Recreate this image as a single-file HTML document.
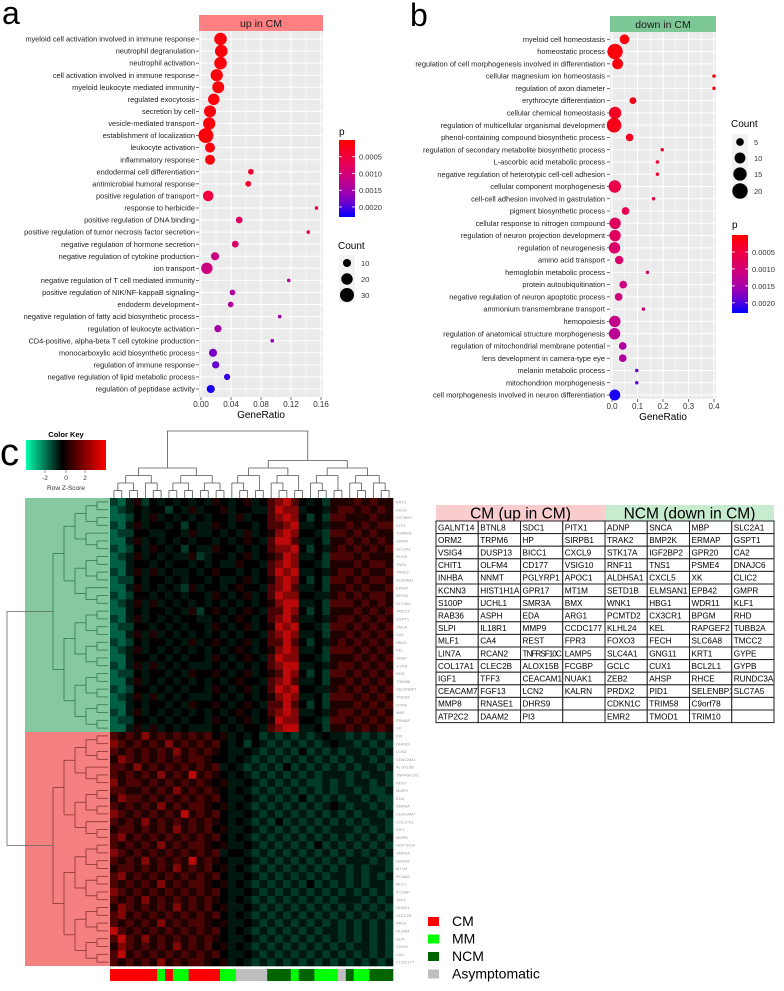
<!DOCTYPE html>
<html><head><meta charset="utf-8"><style>
body{margin:0;background:#fff;}
svg text{font-family:"Liberation Sans",sans-serif;}
</style></head><body>
<svg id="fig" width="784" height="986" viewBox="0 0 784 986" xmlns="http://www.w3.org/2000/svg">
<rect width="784" height="986" fill="#fff"/>
<text x="2" y="24" font-size="32">a</text>
<text x="410" y="26" font-size="32">b</text>
<text x="0" y="465" font-size="38">c</text>
<text x="466" y="540" font-size="38">d</text>
<g id="pa"></g>
<g id="pb"></g>
<g id="pc"></g>
<g id="pd"></g>
</svg>
<script>
const NS="http://www.w3.org/2000/svg";
// ---------- Panel a data ----------
const termsA=["myeloid cell activation involved in immune response","neutrophil degranulation","neutrophil activation","cell activation involved in immune response","myeloid leukocyte mediated immunity","regulated exocytosis","secretion by cell","vesicle-mediated transport","establishment of localization","leukocyte activation","inflammatory response","endodermal cell differentiation","antimicrobial humoral response","positive regulation of transport","response to herbicide","positive regulation of DNA binding","positive regulation of tumor necrosis factor secretion","negative regulation of hormone secretion","negative regulation of cytokine production","ion transport","negative regulation of T cell mediated immunity","positive regulation of NIK/NF-kappaB signaling","endoderm development","negative regulation of fatty acid biosynthetic process","regulation of leukocyte activation","CD4-positive, alpha-beta T cell cytokine production","monocarboxylic acid biosynthetic process","regulation of immune response","negative regulation of lipid metabolic process","regulation of peptidase activity"];
const ratioA=[0.026,0.027,0.026,0.021,0.023,0.017,0.012,0.011,0.0065,0.012,0.012,0.0665,0.063,0.0096,0.154,0.051,0.143,0.0457,0.0187,0.0078,0.117,0.042,0.0396,0.105,0.0226,0.095,0.016,0.0196,0.0348,0.013];
const countA=[24,24,24,23,22,20,22,23,34,15,15,5,5,17,2,7,2,7,10,20,2,5,5,2,8,2,10,8,6,10];
const pA=[0.0001,0.0001,0.0001,0.0001,0.0001,0.0001,0.0001,0.0001,0.0001,0.0001,0.0001,0.0004,0.0004,0.0005,0.0006,0.0008,0.0007,0.0009,0.0011,0.0011,0.0013,0.0014,0.0014,0.0015,0.0015,0.0017,0.0018,0.0019,0.0021,0.0022];
const ticksA=[0,0.04,0.08,0.12,0.16];
const tickLabA=["0.00","0.04","0.08","0.12","0.16"];
// ---------- Panel b data ----------
const termsB=["myeloid cell homeostasis","homeostatic process","regulation of cell morphogenesis involved in differentiation","cellular magnesium ion homeostasis","regulation of axon diameter","erythrocyte differentiation","cellular chemical homeostasis","regulation of multicellular organismal development","phenol-containing compound biosynthetic process","regulation of secondary metabolite biosynthetic process","L-ascorbic acid metabolic process","negative regulation of heterotypic cell-cell adhesion","cellular component morphogenesis","cell-cell adhesion involved in gastrulation","pigment biosynthetic process","cellular response to nitrogen compound","regulation of neuron projection development","regulation of neurogenesis","amino acid transport","hemoglobin metabolic process","protein autoubiquitination","negative regulation of neuron apoptotic process","ammonium transmembrane transport","hemopoiesis","regulation of anatomical structure morphogenesis","regulation of mitochondrial membrane potential","lens development in camera-type eye","melanin metabolic process","mitochondrion morphogenesis","cell morphogenesis involved in neuron differentiation"];
const ratioB=[0.049,0.012,0.022,0.4,0.4,0.082,0.012,0.008,0.069,0.197,0.178,0.178,0.011,0.163,0.053,0.012,0.012,0.01,0.028,0.139,0.044,0.026,0.123,0.011,0.01,0.042,0.042,0.097,0.097,0.011];
const countB=[8,20,10,1,1,4,13,18,5,1,1,1,13,1,5,11,11,11,6,1,5,5,1,11,11,5,5,1,1,10];
const pB=[0.0001,0.0001,0.0001,0.0001,0.0001,0.0002,0.0003,0.0002,0.0003,0.0003,0.0004,0.0004,0.0006,0.0006,0.0007,0.0008,0.0008,0.0009,0.0009,0.0009,0.0011,0.0011,0.0011,0.0012,0.0013,0.0014,0.0014,0.0019,0.0019,0.0022];
const ticksB=[0,0.1,0.2,0.3,0.4];
const tickLabB=["0.0","0.1","0.2","0.3","0.4"];
// ---------- Panel c data (heatmap z-levels 0..8, 4=0) ----------
const heatRows=["213524343434354345346786434255565655","123434424353445344336877344356656565","112435343434344353446787424266555655","213534434243354344346678334355656566","122443344353343435345787443266565655","113534343434434345436886334255656565","212435434243354434346778424356565656","123534343352344345345687334266656555","113443434434343354436787443255565665","213535343343454434346878334356656556","122434434344343345345787424266565665","113534343253443454436786334255656556","212443434344354345346877443356565665","123535343434343434345788334266656565","113434434352454345436687424255565656","213534343443343454346786334356656565","122443434344354345345878443266565656","113535343434343434436787334255656565","212434434353454345346686424356565656","123534343434343454345787334266656565","113443434344354345436877443255565656","213535343433343434346788334356656565","122434434354454345345687424266565656","113534343434343454436786334255656565","212443434344354345346878443356565656","123535343433343434345787334266656565","113434434354454345436686424255565656","213534343434343454346787334356656565","122443434344354345345877443266565656","113535343433343434436788334255656565",
"656575656565645343423232323433232323","765656575656564342432323232343323232","656565657565654334323232423232332323","576565656566544343232323232323233232","665756565656563432323242323232323323","656565756585654343232323232333232332","756656565656545334323232322323233232","665565657565654343232323232323323223","576656565656564334323232423232332322","656565756566545343232323232343233232","765656565856564334323232323232323323","656575656565654343232423232323232332","566565657565645334323232323233323232","675656565656564343232323232323232323","656565756566545334323232324232323232","765656565656563443232323232323232323","656575656585654334323232323232333232","566565657565645343232323232323232332","675656565656564334323232323233232323","656565756566545343232323242323232332","765656565656564334323232323232323232","656575656565654343232323232323332323","576565657565645334323232323232323232","675656565656564343232323232323232323","656565756566545334323232323232323232","865656565656564343232323232332323232","686575656565654334323232323232323232","576565657565645343232323232323233232","685656565656564334323232323232323232","656565756566545343232323232323232323"];
const groupSeq=["CM","CM","CM","CM","CM","CM","MM","CM","MM","MM","CM","CM","CM","CM","MM","MM","A","A","A","A","NCM","NCM","NCM","MM","NCM","NCM","MM","MM","MM","A","NCM","MM","MM","NCM","NCM","NCM"];
const groupNames=["CM","MM","NCM","Asymptomatic"];
const rowGenes=["KRT1","FECH","IGF2BP2","KLF1","TUBB2A","GMPR","SLC2A1","RHCE","TNS1","TRAK2","ALDH5A1","EPB42","BPGM","SLC4A1","TMCC2","GSPT1","SNCA","CA2","HBG1","KEL","AHSP","GYPB","RHD","TRIM58","SELENBP1","TMOD1","GYPE","MBP","ERMAP","XK",
"PI3","DHRS9","LCN2","CEACAM1","ALOX15B","TNFRSF10C","REST","MMP9","EDA","SMR3A","CEACAM7","COL17A1","IGF1","MMP8","HIST1H1A","SMR3A","DAAM2","MT1M","RCAN2","MLF1","FCGBP","TFF3","NUAK1","CLEC2B","ARG1","OLFM4","SLPI","VSIG4","CA4","CCDC177"];
// ---------- Panel d data ----------
const tableRows=[["GALNT14","BTNL8","SDC1","PITX1","ADNP","SNCA","MBP","SLC2A1"],["ORM2","TRPM6","HP","SIRPB1","TRAK2","BMP2K","ERMAP","GSPT1"],["VSIG4","DUSP13","BICC1","CXCL9","STK17A","IGF2BP2","GPR20","CA2"],["CHIT1","OLFM4","CD177","VSIG10","RNF11","TNS1","PSME4","DNAJC6"],["INHBA","NNMT","PGLYRP1","APOC1","ALDH5A1","CXCL5","XK","CLIC2"],["KCNN3","HIST1H1A","GPR17","MT1M","SETD1B","ELMSAN1","EPB42","GMPR"],["S100P","UCHL1","SMR3A","BMX","WNK1","HBG1","WDR11","KLF1"],["RAB36","ASPH","EDA","ARG1","PCMTD2","CX3CR1","BPGM","RHD"],["SLPI","IL18R1","MMP9","CCDC177","KLHL24","KEL","RAPGEF2","TUBB2A"],["MLF1","CA4","REST","FPR3","FOXO3","FECH","SLC6A8","TMCC2"],["LIN7A","RCAN2","TNFRSF10C","LAMP5","SLC4A1","GNG11","KRT1","GYPE"],["COL17A1","CLEC2B","ALOX15B","FCGBP","GCLC","CUX1","BCL2L1","GYPB"],["IGF1","TFF3","CEACAM1","NUAK1","ZEB2","AHSP","RHCE","RUNDC3A"],["CEACAM7","FGF13","LCN2","KALRN","PRDX2","PID1","SELENBP1","SLC7A5"],["MMP8","RNASE1","DHRS9","","CDKN1C","TRIM58","C9orf78",""],["ATP2C2","DAAM2","PI3","","EMR2","TMOD1","TRIM10",""]];

function mk(parent,tag,attrs,txt){const e=document.createElementNS(NS,tag);for(const k in attrs)e.setAttribute(k,attrs[k]);if(txt!==undefined)e.textContent=txt;parent.appendChild(e);return e;}
function lerp(a,b,t){return a+(b-a)*t;}
const stops=[[255,0,0],[238,0,71],[200,0,131],[141,0,190],[0,0,255]];
function pcol(p){let t=Math.max(0,Math.min(1,p/0.0023))*4;let i=Math.min(3,Math.floor(t));let f=t-i;const a=stops[i],b=stops[i+1];return `rgb(${Math.round(lerp(a[0],b[0],f))},${Math.round(lerp(a[1],b[1],f))},${Math.round(lerp(a[2],b[2],f))})`;}

function dotplot(g,cfg){
  const {terms,ratio,count,pv,ticks,tickLab,x0,x1,y0,y1,r0,rN,vmax,kr,strip,stripCol,labelX,minorTicks}=cfg;
  const X=v=>x0+2+(v/vmax)*(x1-x0-4);
  const Y=i=>lerp(r0,rN,i/(terms.length-1));
  const bg=mk(g,'rect',{x:x0,y:y0,width:x1-x0,height:y1-y0,fill:'#EBEBEB'});
  
  
  minorTicks.forEach(v=>{mk(g,'line',{x1:X(v),x2:X(v),y1:y0,y2:y1,stroke:'#fff','stroke-width':0.5});});
  ticks.forEach((v,i)=>{
    mk(g,'line',{x1:X(v),x2:X(v),y1:y0,y2:y1,stroke:'#fff','stroke-width':1});
    mk(g,'line',{x1:X(v),x2:X(v),y1:y1,y2:y1+3,stroke:'#333','stroke-width':0.7});
    const t=mk(g,'text',{x:X(v),y:y1+10,'font-size':8,'text-anchor':'middle',fill:'#333'},tickLab[i]);
    
    
  });
  const xt=mk(g,'text',{x:(x0+x1)/2,y:y1+21,'font-size':10,'text-anchor':'middle',fill:'#000'},'GeneRatio');
  
  
  terms.forEach((tm,i)=>{
    const y=Y(i);
    mk(g,'line',{x1:x0,x2:x1,y1:y,y2:y,stroke:'#fff','stroke-width':1});
    mk(g,'line',{x1:x0-3,x2:x0,y1:y,y2:y,stroke:'#333','stroke-width':0.7});
    const t=mk(g,'text',{x:labelX,y:y+2.6,'font-size':7.4,'text-anchor':'end',fill:'#222'},tm);
    
    
  });
  terms.forEach((tm,i)=>{
    const c=mk(g,'circle',{cx:X(ratio[i]),cy:Y(i),r:kr*Math.sqrt(count[i]),fill:pcol(pv[i])});
    
    
  });
  const s=mk(g,'rect',{x:x0,y:y0-16,width:x1-x0,height:16,fill:stripCol});
  
  
  const st=mk(g,'text',{x:(x0+x1)/2,y:y0-4,'font-size':10.5,'text-anchor':'middle',fill:'#1a1a1a'},strip);
  
  
}
function pLegend(g,x,yT,yTop,yBot){
  const t=mk(g,'text',{x:x,y:yT,'font-size':10,fill:'#000'},'p');
  
  
  const id='grad'+x;
  const defs=mk(g,'defs',{});const lg=mk(defs,'linearGradient',{id:id,x1:0,y1:0,x2:0,y2:1});
  for(let i=0;i<=10;i++){mk(lg,'stop',{offset:i/10,'stop-color':pcol(0.0023*i/10)});}
  const bar=mk(g,'rect',{x:x,y:yTop,width:16,height:yBot-yTop,fill:`url(#${id})`});
  
  
  const labs=[0.0005,0.001,0.0015,0.002],lt=["0.0005","0.0010","0.0015","0.0020"];
  labs.forEach((v,i)=>{const y=yTop+(v/0.0023)*(yBot-yTop);
    mk(g,'line',{x1:x,x2:x+3,y1:y,y2:y,stroke:'#fff','stroke-width':0.8});mk(g,'line',{x1:x+13,x2:x+16,y1:y,y2:y,stroke:'#fff','stroke-width':0.8});
    const l=mk(g,'text',{x:x+20,y:y+3,'font-size':7.5,fill:'#333'},lt[i]);
    
    });
}
function cLegend(g,x,yT,vals,ys,kr){
  const t=mk(g,'text',{x:x,y:yT,'font-size':10,fill:'#000'},'Count');
  
  
  vals.forEach((v,i)=>{
    mk(g,'rect',{x:x+1,y:ys[i]-8,width:16,height:16,fill:'#F2F2F2'});
    const c=mk(g,'circle',{cx:x+9,cy:ys[i],r:kr*Math.sqrt(v),fill:'#000'});
    
    
    const l=mk(g,'text',{x:x+23,y:ys[i]+3,'font-size':7.5,fill:'#333'},String(v));
    
    
  });
}
const pa=document.getElementById('pa');
dotplot(pa,{terms:termsA,ratio:ratioA,count:countA,pv:pA,ticks:ticksA,tickLab:tickLabA,minorTicks:[0.02,0.06,0.1,0.14],x0:199,x1:323,y0:31,y1:397,r0:39,rN:389,vmax:0.16,kr:1.28,strip:'up in CM',stripCol:'#FF8080',labelX:195});
pLegend(pa,339,135,140,217);
cLegend(pa,338,249,[10,20,30],[263,279,295],1.28);
const pb=document.getElementById('pb');
dotplot(pb,{terms:termsB,ratio:ratioB,count:countB,pv:pB,ticks:ticksB,tickLab:tickLabB,minorTicks:[0.05,0.15,0.25,0.35],x0:610,x1:716,y0:32,y1:399,r0:39.3,rN:395,vmax:0.4,kr:1.72,strip:'down in CM',stripCol:'#7DC794',labelX:605});
cLegend(pb,731,127,[5,10,15,20],[142,158,174,191],1.72);
pLegend(pb,732,228,235,313);

// ---------- Panel c ----------
const pc=document.getElementById('pc');
const HX0=110,HX1=393,HY0=498,HY1=966;
const nC=heatRows[0].length,nR=heatRows.length;
const cw=(HX1-HX0)/nC,rh=(HY1-HY0)/nR;
function zcol(d){const z=(d-4)/4;if(z>=0){const i=Math.pow(z,1.3)*0.8;return `rgb(${Math.round(235*i)},${Math.round(10*i)},${Math.round(10*i)})`;}const i=Math.pow(-z,1.3)*0.7;return `rgb(0,${Math.round(200*i)},${Math.round(140*i)})`;}
// color key
const kd=mk(pc,'defs',{});const kg=mk(kd,'linearGradient',{id:'ckey',x1:0,y1:0,x2:1,y2:0});
[['0','#00FFB0'],['0.45','#000'],['1','#FF0000']].forEach(s=>mk(kg,'stop',{offset:s[0],'stop-color':s[1]}));
const ck=mk(pc,'rect',{x:26,y:440,width:80,height:30,fill:'url(#ckey)'});


mk(pc,'text',{x:66,y:437,'font-size':7.5,'font-weight':'bold','text-anchor':'middle'},'Color Key');
[['-2',45],['0',66],['2',85]].forEach(a=>{mk(pc,'line',{x1:a[1],x2:a[1],y1:470,y2:473,stroke:'#555','stroke-width':0.6});mk(pc,'text',{x:a[1],y:480,'font-size':6.5,'text-anchor':'middle',fill:'#333'},a[0]);});
mk(pc,'text',{x:66,y:490,'font-size':6.5,'text-anchor':'middle',fill:'#333'},'Row Z-Score');
const split=30;
mk(pc,'rect',{x:25,y:HY0,width:HX0-25,height:split*rh,fill:'#86C9A0'});
mk(pc,'rect',{x:25,y:HY0+split*rh,width:HX0-25,height:(nR-split)*rh,fill:'#F48080'});
for(let r=0;r<nR;r++){for(let c=0;c<nC;c++){
  const d=+heatRows[r][c];
  const cell=mk(pc,'rect',{x:HX0+c*cw,y:HY0+r*rh,width:cw+0.3,height:rh+0.3,fill:zcol(d)});
  
  
}}
for(let r=0;r<nR;r++){mk(pc,'text',{x:HX1+3,y:HY0+r*rh+rh*0.7,'font-size':4,fill:'#999'},rowGenes[r]);}
function build(lo,hi){if(lo===hi)return {lo:lo,hi:hi,leaf:true,h:0,pos:lo};const m=lo+Math.max(0,Math.floor((hi-lo+1)*0.45)-1)+ ((hi-lo)>2?1:0);const mm=Math.min(hi-1,Math.max(lo,m));const a=build(lo,mm),b=build(mm+1,hi);return {a:a,b:b,h:Math.max(a.h,b.h)+1,pos:(a.pos+b.pos)/2};}
function drawTree(node,g,toP,toH,color){if(node.leaf)return;[node.a,node.b].forEach(ch=>{drawTree(ch,g,toP,toH,color);const p1=toP(ch.pos),h1=toH(ch.h),h0=toH(node.h);mk(g,'path',{d:toPathSeg(p1,h1,h0),stroke:color,'stroke-width':0.8,fill:'none'});});const pa=toP(node.a.pos),pb2=toP(node.b.pos),h0=toH(node.h);mk(g,'path',{d:toCross(pa,pb2,h0),stroke:color,'stroke-width':0.8,fill:'none'});}
let toPathSeg=(p,h1,h0)=>`M${p},${h1}V${h0}`;let toCross=(a,b,h)=>`M${a},${h}H${b}`;
const colL=build(0,14),colR=build(15,nC-1);
const colG=mk(pc,'g',{});
const cP=i=>HX0+(i+0.5)*cw,cH=h=>HY0-h*7.5;
drawTree(colL,colG,cP,cH,'#555');drawTree(colR,colG,cP,cH,'#555');
mk(colG,'path',{d:`M${cP(colL.pos)},${cH(colL.h)}V431H${cP(colR.pos)}V${cH(colR.h)}`,stroke:'#555','stroke-width':0.8,fill:'none'});
toPathSeg=(p,h1,h0)=>`M${h1},${p}H${h0}`;toCross=(a,b,h)=>`M${h},${a}V${b}`;
const rowT=build(0,split-1),rowB=build(split,nR-1);
const rowG=mk(pc,'g',{});
const rP=i=>HY0+(i+0.5)*rh,rH=h=>HX0-2-h*11;
drawTree(rowT,rowG,rP,rH,'#2E7A4A');drawTree(rowB,rowG,rP,rH,'#8A3030');
mk(rowG,'path',{d:`M${rH(rowT.h)},${rP(rowT.pos)}H7V${rP(rowB.pos)}H${rH(rowB.h)}`,stroke:'#666','stroke-width':0.8,fill:'none'});
const gcol={CM:'#FF0000',MM:'#00FF00',NCM:'#006400',A:'#BEBEBE',Asymptomatic:'#BEBEBE'};
groupSeq.forEach((gname,c)=>{const r=mk(pc,'rect',{x:HX0+c*cw,y:969,width:cw+0.3,height:12,fill:gcol[gname]});
  
  });
groupNames.forEach((n,i)=>{const y=917+i*17.5;
  const s=mk(pc,'rect',{x:428,y:y,width:11,height:9,fill:gcol[n]});
  
  
  const t=mk(pc,'text',{x:452,y:y+9,'font-size':14,fill:'#000'},n);
  
  });

// ---------- Panel d table ----------
const pd=document.getElementById('pd');
const TX0=436,TX1=774,TY0=505,TH=16,TR0=521,TRh=12.6;
const tcw=(TX1-TX0)/8;
mk(pd,'rect',{x:TX0,y:TY0,width:tcw*4,height:TH,fill:'#F9CDCD'});
mk(pd,'rect',{x:TX0+tcw*4,y:TY0,width:tcw*4,height:TH,fill:'#C6EBCF'});
const h1=mk(pd,'text',{x:TX0+tcw*2,y:TY0+13.5,'font-size':15.5,'text-anchor':'middle'},'CM (up in CM)');


const h2=mk(pd,'text',{x:TX0+tcw*6,y:TY0+13.5,'font-size':15.5,'text-anchor':'middle'},'NCM (down in CM)');


tableRows.forEach((row,r)=>row.forEach((v,c)=>{
  const x=TX0+c*tcw,y=TR0+r*TRh;
  mk(pd,'rect',{x:x,y:y,width:tcw,height:TRh,fill:'#fff',stroke:'#222','stroke-width':1});
  if(v){const t=mk(pd,'text',{x:x+2,y:y+9.3,'font-size':8.2,fill:'#000'},v);
    if(v.length>8)t.setAttribute('textLength',tcw-3);
    
    }
}));
</script>
</body></html>
